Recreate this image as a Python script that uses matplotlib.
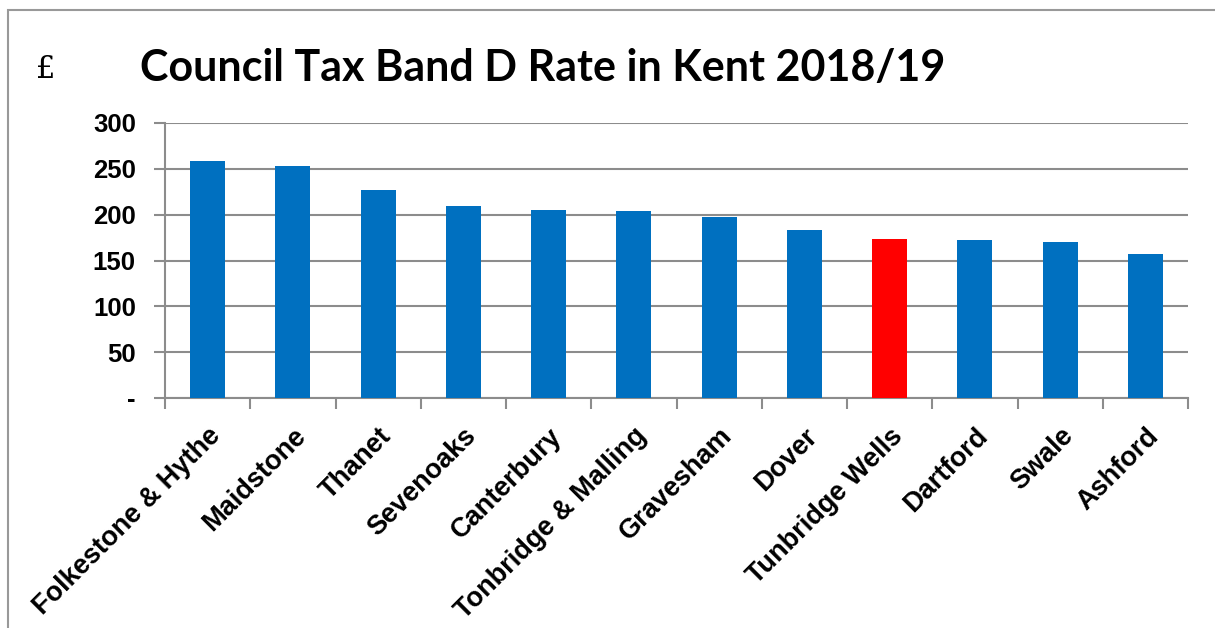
import matplotlib.pyplot as plt
import numpy as np
from matplotlib.patches import Rectangle

councils = ['Folkestone & Hythe', 'Maidstone', 'Thanet', 'Sevenoaks', 'Canterbury',
            'Tonbridge & Malling', 'Gravesham', 'Dover', 'Tunbridge Wells',
            'Dartford', 'Swale', 'Ashford']
band_d = [258, 253, 227, 209, 205, 204, 197, 183, 173, 172, 170, 157]
highlight = 'Tunbridge Wells'

yticks = [0, 50, 100, 150, 200, 250, 300]
ytick_labels = ['-', '50', '100', '150', '200', '250', '300']

blue = '#0070C0'
red = '#FF0000'
grid = '#8C8C8C'

fig = plt.figure(figsize=(12.15, 6.28), dpi=100)

# gray frame of the chart box (only top and left edges visible in crop)
fig.add_artist(Rectangle((8/1215, -0.1), 1.2, (628-10)/628 + 0.1,
                         transform=fig.transFigure, fill=False,
                         edgecolor='#999999', lw=1.5))

ax = fig.add_axes([165/1215, 1-398/628, (1188-165)/1215, (398-123)/628])

x = np.arange(len(councils))
colors = [red if c == highlight else blue for c in councils]
ax.bar(x, band_d, width=0.41, color=colors, zorder=3)

ax.set_xlim(-0.5, len(councils) - 0.5)
ax.set_ylim(0, 300)
ax.set_yticks(yticks)
ax.set_yticklabels(ytick_labels, fontsize=18.5, fontweight='bold',
                   family='Liberation Sans')
ax.yaxis.grid(True, color=grid, lw=1.5, zorder=0)
ax.tick_params(axis='y', length=8, width=1.5, color=grid, pad=13)

# category ticks between bars, labels at bar centres
ax.set_xticks(np.arange(-0.5, len(councils)), minor=True)
ax.set_xticks(x)
ax.set_xticklabels(councils, rotation=45, ha='right', va='top',
                   rotation_mode='anchor', fontsize=19.5, fontweight='bold',
                   family='Liberation Sans')
ax.tick_params(axis='x', which='major', length=0, pad=18)
ax.tick_params(axis='x', which='minor', length=8, width=1.5, color=grid)

for s in ['top', 'right']:
    ax.spines[s].set_visible(False)
for s in ['left', 'bottom']:
    ax.spines[s].set_color(grid)
    ax.spines[s].set_linewidth(1.5)

fig.text(543/1215, 1-68/628, 'Council Tax Band D Rate in Kent 2018/19',
         ha='center', va='center', fontsize=31, fontweight='bold', family='Lato')
fig.text(46/1215, 1-70/628, '£', ha='center', va='center', fontsize=22,
         family='DejaVu Serif')

fig.savefig('out.png', dpi=100)
